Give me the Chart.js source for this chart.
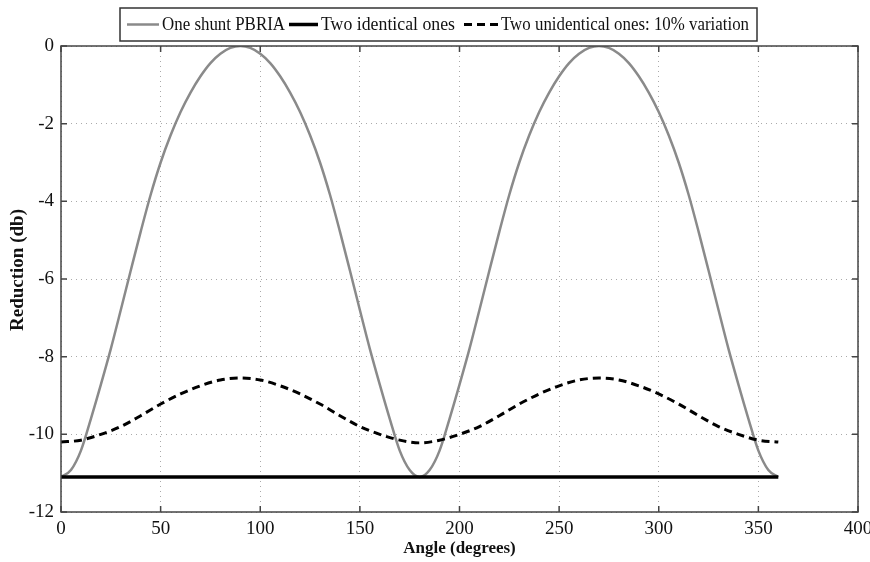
<!DOCTYPE html>
<html>
<head>
<meta charset="utf-8">
<script src="https://cdn.jsdelivr.net/npm/chart.js@4.4.1/dist/chart.umd.min.js"></script>
<style>
  html, body { margin: 0; padding: 0; background: #fff; }
  #wrap { width: 870px; height: 562px; }
</style>
</head>
<body>
<div id="wrap"><canvas id="reduction" width="870" height="562"></canvas></div>
<script>
// data
const shuntAngles = [0,5,10,15,20,25,30,35,40,45,50,55,60,65,70,75,80,85,90,
  95,100,105,110,115,120,125,130,135,140,145,150,155,160,165,170,175,180,
  185,190,195,200,205,210,215,220,225,230,235,240,245,250,255,260,265,270,
  275,280,285,290,295,300,305,310,315,320,325,330,335,340,345,350,355,360]
const shuntValues = [-11.1,-10.92,-10.42,-9.6,-8.72,-7.8,-6.8,-5.78,-4.78,-3.83,-3.0,-2.3,-1.7,-1.2,-0.78,-0.44,-0.2,-0.05,0,
  -0.05,-0.2,-0.44,-0.78,-1.2,-1.7,-2.3,-3.0,-3.83,-4.78,-5.78,-6.8,-7.8,-8.72,-9.6,-10.42,-10.92,-11.1,
  -10.92,-10.42,-9.6,-8.72,-7.8,-6.8,-5.78,-4.78,-3.83,-3.0,-2.3,-1.7,-1.2,-0.78,-0.44,-0.2,-0.05,0,
  -0.05,-0.2,-0.44,-0.78,-1.2,-1.7,-2.3,-3.0,-3.83,-4.78,-5.78,-6.8,-7.8,-8.72,-9.6,-10.42,-10.92,-11.1]

const identicalAngles = [0, 360]
const identicalValues = [-11.1, -11.1]

const variedAngles = [0,10,20,30,40,50,60,70,80,90,100,110,120,130,140,150,160,170,180,
  190,200,210,220,230,240,250,260,270,280,290,300,310,320,330,340,350,360]
const variedValues = [-10.2,-10.15,-10.0,-9.8,-9.52,-9.22,-8.96,-8.75,-8.6,-8.55,-8.6,-8.75,-8.96,-9.22,-9.52,-9.8,-10.0,-10.15,-10.22,
  -10.15,-10.0,-9.8,-9.52,-9.22,-8.96,-8.75,-8.6,-8.55,-8.6,-8.75,-8.96,-9.22,-9.52,-9.8,-10.0,-10.15,-10.2]

const xTicks = [0, 50, 100, 150, 200, 250, 300, 350, 400]
const yTicks = [-12, -10, -8, -6, -4, -2, 0]

const seriesNames = ['One shunt PBRIA', 'Two identical ones', 'Two unidentical ones: 10% variation']
const yTitle = 'Reduction (db)'

const toPoints = (xs, ys) => xs.map((x, i) => ({x: x, y: ys[i]}))

const serif = "'Liberation Serif', 'DejaVu Serif', serif"

// MATLAB style box, inward ticks, y title and legend
const matlabFrame = {
  id: 'matlabFrame',
  afterDraw(chart) {
    const ctx = chart.ctx
    const a = chart.chartArea
    const xs = chart.scales.x
    const ys = chart.scales.y
    ctx.save()
    ctx.strokeStyle = '#444'
    ctx.lineWidth = 1.5
    ctx.setLineDash([])
    ctx.strokeRect(a.left, a.top, a.right - a.left, a.bottom - a.top)
    const len = 6
    ctx.beginPath()
    xTicks.forEach(v => {
      const px = xs.getPixelForValue(v)
      ctx.moveTo(px, a.bottom); ctx.lineTo(px, a.bottom - len)
      ctx.moveTo(px, a.top); ctx.lineTo(px, a.top + len)
    })
    yTicks.forEach(v => {
      const py = ys.getPixelForValue(v)
      ctx.moveTo(a.left, py); ctx.lineTo(a.left + len, py)
      ctx.moveTo(a.right, py); ctx.lineTo(a.right - len, py)
    })
    ctx.stroke()

    // y axis title
    ctx.save()
    ctx.translate(18, 270)
    ctx.rotate(-Math.PI / 2)
    ctx.font = 'bold 19px ' + serif
    ctx.fillStyle = '#111'
    ctx.textAlign = 'center'
    ctx.textBaseline = 'middle'
    ctx.fillText(yTitle, 0, 0)
    ctx.restore()

    // legend
    const bx = 120, by = 8, bw = 637, bh = 33
    ctx.fillStyle = '#fff'
    ctx.fillRect(bx, by, bw, bh)
    ctx.strokeStyle = '#333'
    ctx.lineWidth = 1.5
    ctx.strokeRect(bx, by, bw, bh)
    const cy = by + bh / 2
    const items = [
      {x0: 127, x1: 159, tx: 162, tw: 123},
      {x0: 289, x1: 318, tx: 321, tw: 134},
      {x0: 464, x1: 498, tx: 501, tw: 248}
    ]
    ctx.font = '19px ' + serif
    ctx.textBaseline = 'middle'
    chart.data.datasets.forEach((ds, i) => {
      const it = items[i]
      ctx.strokeStyle = ds.borderColor
      ctx.lineWidth = ds.borderWidth
      ctx.setLineDash(ds.borderDash || [])
      ctx.beginPath()
      ctx.moveTo(it.x0, cy); ctx.lineTo(it.x1, cy)
      ctx.stroke()
      ctx.setLineDash([])
      ctx.fillStyle = '#111'
      const w = ctx.measureText(ds.label).width
      ctx.save()
      ctx.translate(it.tx, cy + 1)
      ctx.scale(it.tw / w, 1)
      ctx.fillText(ds.label, 0, 0)
      ctx.restore()
    })
    ctx.restore()
  }
}

const ctx = document.querySelector('#reduction')
const reductionChart = new Chart(ctx, {
  type: 'line',
  data: {
    datasets: [
      {
        label: seriesNames[0],
        data: toPoints(shuntAngles, shuntValues),
        borderColor: '#8a8a8a',
        borderWidth: 2.5,
        pointRadius: 0,
        cubicInterpolationMode: 'monotone',
        order: 3
      },
      {
        label: seriesNames[1],
        data: toPoints(identicalAngles, identicalValues),
        borderColor: '#000',
        borderWidth: 3.5,
        pointRadius: 0,
        order: 2
      },
      {
        label: seriesNames[2],
        data: toPoints(variedAngles, variedValues),
        borderColor: '#000',
        borderWidth: 3,
        borderDash: [8, 5],
        pointRadius: 0,
        cubicInterpolationMode: 'monotone',
        order: 1
      }
    ]
  },
  options: {
    responsive: false,
    animation: false,
    layout: { padding: { top: 46, right: 12, left: 0, bottom: 0 } },
    plugins: { legend: { display: false }, tooltip: { enabled: false } },
    scales: {
      x: {
        type: 'linear',
        min: 0, max: 400,
        afterFit: s => { s.height = 50; s.paddingLeft = 0; s.paddingRight = 0 },
        afterBuildTicks: s => { s.ticks = xTicks.map(v => ({value: v})) },
        grid: { color: '#aaa', lineWidth: 1, drawTicks: false },
        border: { display: false, dash: [1, 4] },
        ticks: { padding: 6, color: '#111', font: { family: serif, size: 19 } },
        title: { display: true, text: 'Angle (degrees)', color: '#111',
          font: { family: serif, size: 17, weight: 'bold' }, padding: { top: 0, bottom: 3 } }
      },
      y: {
        type: 'linear',
        min: -12, max: 0,
        afterFit: s => { s.width = 61; s.paddingTop = 0; s.paddingBottom = 0 },
        afterBuildTicks: s => { s.ticks = yTicks.map(v => ({value: v})) },
        grid: { color: '#aaa', lineWidth: 1, drawTicks: false },
        border: { display: false, dash: [1, 4] },
        ticks: { padding: 7, color: '#111', font: { family: serif, size: 19 } },
        title: { display: false }
      }
    }
  },
  plugins: [matlabFrame]
})
</script>
</body>
</html>
